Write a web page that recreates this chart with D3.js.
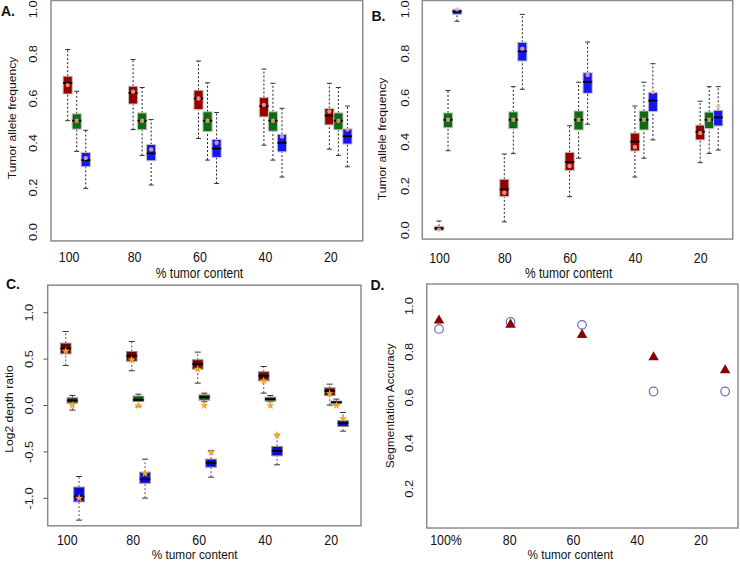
<!DOCTYPE html>
<html>
<head>
<meta charset="utf-8">
<script src="https://cdn.jsdelivr.net/npm/d3@7"></script>
<style>
  body { margin: 0; background: #fff; }
  svg { display: block; font-family: 'Liberation Sans', Arial, sans-serif; }
</style>
</head>
<body>
<div id="chart"></div>
<script>
'use strict';

// categories
var contentLabels = ['100', '80', '60', '40', '20'];
var contentLabelsD = ['100%', '80', '60', '40', '20'];

// box stats per tumor content: [low, q1, median, q3, high, mean]
var freqAGain = [[0.50, 0.62, 0.67, 0.70, 0.82, 0.66], [0.46, 0.575, 0.625, 0.655, 0.775, 0.63], [0.42, 0.55, 0.60, 0.637, 0.768, 0.60], [0.39, 0.517, 0.565, 0.604, 0.732, 0.571], [0.372, 0.481, 0.523, 0.555, 0.668, 0.541]];
var freqANeutral = [[0.362, 0.462, 0.50, 0.531, 0.632, 0.50], [0.344, 0.459, 0.50, 0.535, 0.649, 0.50], [0.323, 0.451, 0.50, 0.540, 0.670, 0.50], [0.323, 0.453, 0.50, 0.540, 0.668, 0.50], [0.344, 0.459, 0.50, 0.535, 0.649, 0.50]];
var freqALoss = [[0.196, 0.293, 0.323, 0.357, 0.457, 0.332], [0.211, 0.320, 0.353, 0.393, 0.505, 0.371], [0.218, 0.335, 0.375, 0.416, 0.537, 0.401], [0.247, 0.360, 0.401, 0.439, 0.556, 0.429], [0.293, 0.395, 0.430, 0.463, 0.566, 0.460]];

var freqBGain = [[0.0, 0.0, 0.008, 0.018, 0.042, 0.003], [0.038, 0.152, 0.185, 0.231, 0.345, 0.170], [0.152, 0.271, 0.309, 0.353, 0.473, 0.291], [0.241, 0.359, 0.401, 0.440, 0.562, 0.377], [0.306, 0.409, 0.446, 0.476, 0.584, 0.440]];
var freqBNeutral = [[0.360, 0.464, 0.50, 0.531, 0.633, 0.50], [0.347, 0.460, 0.50, 0.536, 0.650, 0.50], [0.326, 0.454, 0.50, 0.540, 0.670, 0.50], [0.326, 0.454, 0.50, 0.540, 0.670, 0.50], [0.348, 0.460, 0.50, 0.535, 0.650, 0.50]];
var freqBLoss = [[0.946, 0.977, 0.99, 1.0, 1.0, 1.0], [0.638, 0.766, 0.81, 0.851, 0.977, 0.822], [0.480, 0.620, 0.672, 0.713, 0.852, 0.703], [0.409, 0.537, 0.587, 0.624, 0.754, 0.626], [0.363, 0.472, 0.511, 0.543, 0.650, 0.561]];

var ratioCGain = [[0.431, 0.557, 0.614, 0.672, 0.797, 0.586], [0.374, 0.478, 0.536, 0.582, 0.690, 0.492], [0.241, 0.392, 0.446, 0.492, 0.575, 0.392], [0.133, 0.266, 0.32, 0.363, 0.42, 0.266], [0.004, 0.108, 0.158, 0.19, 0.23, 0.129]];
var ratioCNeutral = [[-0.05, 0.026, 0.054, 0.083, 0.108, 0.0], [-0.014, 0.043, 0.061, 0.101, 0.122, 0.0], [0.04, 0.058, 0.09, 0.115, 0.133, 0.0], [0.04, 0.047, 0.069, 0.09, 0.108, 0.0], [0.005, 0.022, 0.035, 0.047, 0.069, 0.0]];
var ratioCLoss = [[-1.235, -1.038, -0.981, -0.879, -0.765, -0.998], [-0.998, -0.837, -0.794, -0.718, -0.578, -0.733], [-0.772, -0.664, -0.617, -0.578, -0.488, -0.505], [-0.639, -0.542, -0.488, -0.441, -0.316, -0.316], [-0.276, -0.226, -0.19, -0.162, -0.075, -0.14]];

// segmentation accuracy
var accuracyTriangle = [0.937, 0.919, 0.874, 0.776, 0.719];
var accuracyCircle = [0.90, 0.931, 0.918, 0.626, 0.626];

// tick values
var ticksFreq = [0, 0.2, 0.4, 0.6, 0.8, 1.0];
var ticksRatio = [-1.0, -0.5, 0, 0.5, 1.0];
var ticksAccuracy = [0.2, 0.4, 0.6, 0.8, 1.0];

var svg = d3.select('#chart').append('svg')
  .attr('width', 740)
  .attr('height', 562);

// the source figure is stretched vertically, so text gets a scale too
function addText(x, y, txt, o) {
  var t = svg.append('text')
    .attr('text-anchor', o.anchor || 'middle')
    .attr('font-size', o.size)
    .attr('font-weight', o.bold ? 'bold' : null)
    .attr('fill', '#111')
    .text(txt);
  if (o.rotate) {
    t.attr('transform', 'translate(' + x + ',' + y + ') rotate(-90) scale(' + (o.stretch || 1) + ',1)');
  } else {
    t.attr('transform', 'translate(' + x + ',' + y + ') scale(1,' + (o.stretch || 1) + ')');
  }
  return t;
}

function drawFrame(x, y) {
  svg.append('rect')
    .attr('x', x.range()[0])
    .attr('y', y.range()[1])
    .attr('width', x.range()[1] - x.range()[0])
    .attr('height', y.range()[0] - y.range()[1])
    .attr('fill', 'none')
    .attr('stroke', '#8c8c8c')
    .attr('stroke-width', 1.5);
}

function drawBoxes(cfg) {
  var g = svg.append('g');
  cfg.series.forEach(function(rows, s) {
    rows.forEach(function(d, i) {
      var cx = cfg.x(i + cfg.offsets[s]);
      var bw = cfg.boxWidth, cw = cfg.capWidth;
      var y = cfg.y;
      // whiskers
      g.append('line')
        .attr('x1', cx).attr('x2', cx)
        .attr('y1', y(d[0])).attr('y2', y(d[1]))
        .attr('stroke', cfg.whisker).attr('stroke-width', 1)
        .attr('stroke-dasharray', '2,2');
      g.append('line')
        .attr('x1', cx).attr('x2', cx)
        .attr('y1', y(d[3])).attr('y2', y(d[4]))
        .attr('stroke', cfg.whisker).attr('stroke-width', 1)
        .attr('stroke-dasharray', '2,2');
      [d[0], d[4]].forEach(function(v) {
        g.append('line')
          .attr('x1', cx - cw / 2).attr('x2', cx + cw / 2)
          .attr('y1', y(v)).attr('y2', y(v))
          .attr('stroke', '#333').attr('stroke-width', 1);
      });
      // box
      g.append('rect')
        .attr('x', cx - bw / 2)
        .attr('y', y(d[3]))
        .attr('width', bw)
        .attr('height', Math.max(1.5, y(d[1]) - y(d[3])))
        .attr('fill', cfg.colors[s])
        .attr('stroke', cfg.border)
        .attr('stroke-width', 1);
      g.append('line')
        .attr('x1', cx - bw / 2).attr('x2', cx + bw / 2)
        .attr('y1', y(d[2])).attr('y2', y(d[2]))
        .attr('stroke', '#000').attr('stroke-width', 1.8);
      // mean
      if (cfg.meanStar) {
        g.append('path')
          .attr('d', d3.symbol(d3.symbolStar, 22)())
          .attr('transform', 'translate(' + cx + ',' + y(d[5]) + ')')
          .attr('fill', '#f5a623');
      } else {
        g.append('circle')
          .attr('cx', cx).attr('cy', y(d[5])).attr('r', 2.2)
          .attr('fill', '#ffb09a').attr('opacity', 0.8);
      }
    });
  });
}

function yTicks(y, ticks, xPos, stretch) {
  ticks.forEach(function(v) {
    addText(xPos, y(v), v.toFixed(1), {size: 11, rotate: true, stretch: stretch});
  });
}

function xTicks(x, labels, yPos, shift) {
  labels.forEach(function(l, i) {
    addText(x(i) + shift, yPos, l, {size: 12.4, stretch: 1.2});
  });
}

// ---- Panel A ----
var xA = d3.scaleLinear().domain([-0.255, 4.51]).range([51, 362.7]);
var yA = d3.scaleLinear().domain([-0.04, 1.04]).range([240.9, 0.5]);
drawBoxes({x: xA, y: yA, series: [freqAGain, freqANeutral, freqALoss], offsets: [0, 0.138, 0.276],
  boxWidth: 9.2, capWidth: 5, colors: ['#960000', '#0f6b0f', '#1515f5'], border: '#c4c4c4', whisker: '#222'});
drawFrame(xA, yA);
yTicks(yA, ticksFreq, 37.3, 1.17);
xTicks(xA, contentLabels, 262.2, 1.5);
addText(199.5, 277.8, '% tumor content', {size: 12, stretch: 1.15});
addText(16.2, 118, 'Tumor allele frequency', {size: 11, rotate: true, stretch: 1.1});
addText(1, 16, 'A.', {size: 14, bold: true, anchor: 'start'});

// ---- Panel B ----
var xB = d3.scaleLinear().domain([-0.256, 4.498]).range([422.3, 732.7]);
var yB = d3.scaleLinear().domain([-0.04, 1.04]).range([239.1, 0.5]);
drawBoxes({x: xB, y: yB, series: [freqBGain, freqBNeutral, freqBLoss], offsets: [0, 0.138, 0.276],
  boxWidth: 9.2, capWidth: 5, colors: ['#960000', '#0f6b0f', '#1515f5'], border: '#c4c4c4', whisker: '#222'});
drawFrame(xB, yB);
yTicks(yB, ticksFreq, 408.7, 1.17);
xTicks(xB, contentLabels, 262.8, 0.5);
addText(568.7, 277.8, '% tumor content', {size: 12, stretch: 1.15});
addText(386.2, 139, 'Tumor allele frequency', {size: 11, rotate: true, stretch: 1.1});
addText(371.5, 20.7, 'B.', {size: 14, bold: true, anchor: 'start'});

// ---- Panel C ----
var xC = d3.scaleLinear().domain([-0.273, 4.474]).range([47.7, 361]);
var yC = d3.scaleLinear().domain([-1.296, 1.296]).range([525.8, 285.2]);
drawBoxes({x: xC, y: yC, series: [ratioCGain, ratioCNeutral, ratioCLoss], offsets: [0, 0.101, 0.202],
  boxWidth: 10.6, capWidth: 6, colors: ['#6e0000', '#0c4f0c', '#0a0ad8'], border: '#9a8a8a', whisker: '#555', meanStar: true});
drawFrame(xC, yC);
ticksRatio.forEach(function(v) {
  svg.append('line')
    .attr('x1', 43.5).attr('x2', 47.7)
    .attr('y1', yC(v)).attr('y2', yC(v))
    .attr('stroke', '#555').attr('stroke-width', 1);
});
yTicks(yC, ticksRatio, 32.7, 1.17);
xTicks(xC, contentLabels, 544.5, 1.5);
addText(194.7, 559.3, '% tumor content', {size: 11.8, stretch: 1.1});
addText(12.9, 409, 'Log2 depth ratio', {size: 11, rotate: true, stretch: 1.1});
addText(6, 288.5, 'C.', {size: 14, bold: true, anchor: 'start'});

// ---- Panel D ----
var xD = d3.scaleLinear().domain([-0.172, 4.18]).range([426.7, 738]);
var yD = d3.scaleLinear().domain([0.028, 1.097]).range([528, 284]);
var xDLabel = d3.scaleLinear().domain([0, 4]).range([446, 701]);
drawFrame(xD, yD);
svg.append('g').selectAll('circle')
  .data(accuracyCircle)
  .enter().append('circle')
  .attr('cx', function(d, i) { return xD(i); })
  .attr('cy', function(d) { return yD(d); })
  .attr('r', 4.3)
  .attr('fill', 'none')
  .attr('stroke', '#6b6bbd')
  .attr('stroke-width', 1.2);
svg.append('g').selectAll('path')
  .data(accuracyTriangle)
  .enter().append('path')
  .attr('d', d3.symbol(d3.symbolTriangle, 48)())
  .attr('transform', function(d, i) { return 'translate(' + xD(i) + ',' + yD(d) + ')'; })
  .attr('fill', '#8b0000');
yTicks(yD, ticksAccuracy, 413.3, 1.17);
xTicks(xDLabel, contentLabelsD, 544.5, 0);
addText(570.3, 559.3, '% tumor content', {size: 11.8, stretch: 1.1});
addText(393.9, 405.8, 'Segmentation Accuracy', {size: 11, rotate: true, stretch: 1.08});
addText(370.5, 289.5, 'D.', {size: 14, bold: true, anchor: 'start'});
</script>
</body>
</html>
